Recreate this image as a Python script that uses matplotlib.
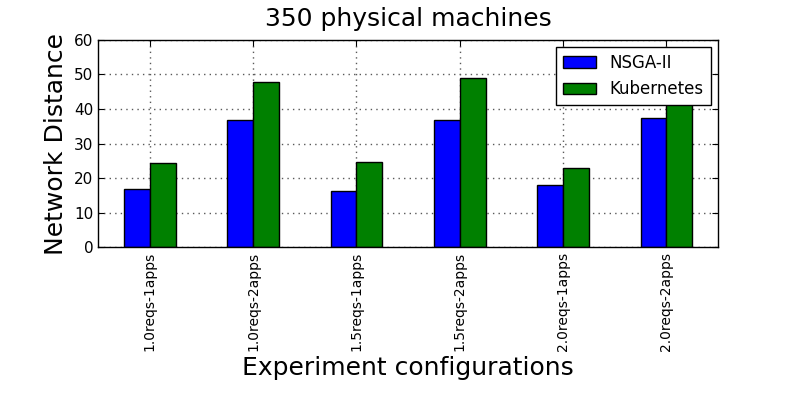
import numpy as np
import matplotlib
matplotlib.use("Agg")
import matplotlib.pyplot as plt

# ── DATA ─────────────────────────────────────────────
configs = ["1.0reqs-1apps", "1.0reqs-2apps", "1.5reqs-1apps",
           "1.5reqs-2apps", "2.0reqs-1apps", "2.0reqs-2apps"]
nsga = [16.8, 36.8, 16.4, 36.8, 18.0, 37.3]
kube = [24.5, 47.9, 24.7, 48.9, 22.9, 48.0]
series_names = ["NSGA-II", "Kubernetes"]

# ── CHART ────────────────────────────────────────────
fig = plt.figure(figsize=(7.97, 3.99), dpi=100)
ax = fig.add_axes([0.123, 0.380, 0.778, 0.520])

x = np.arange(len(configs))
w = 0.25
ax.bar(x - w / 2, nsga, w, color="#0000ff", edgecolor="black", linewidth=1.0,
       label=series_names[0], zorder=2)
ax.bar(x + w / 2, kube, w, color="#008000", edgecolor="black", linewidth=1.0,
       label=series_names[1], zorder=2)

ax.set_xlim(-0.5, len(configs) - 0.5)
ax.set_ylim(0, 60)
ax.set_yticks(range(0, 61, 10))
ax.set_xticks(x)
ax.set_xticklabels(configs, rotation=90, fontsize=10)
ax.tick_params(axis="y", labelsize=11, direction="in", length=4, right=True)
ax.tick_params(axis="x", direction="in", length=4, top=True, pad=3)
ax.grid(True, linestyle=(0, (1, 3)), color="0.35", linewidth=1.0, zorder=0)
ax.set_axisbelow(True)

ax.set_title("350 physical machines", fontsize=18, pad=10)
ax.set_xlabel("Experiment configurations", fontsize=18)
ax.set_ylabel("Network Distance", fontsize=18, labelpad=4)

leg = ax.legend(loc="upper right", fontsize=12, fancybox=False, framealpha=1,
                edgecolor="black", borderaxespad=0.45)
leg.get_frame().set_linewidth(1.0)

for s in ax.spines.values():
    s.set_linewidth(1.0)

fig.savefig("out.png", dpi=100)
